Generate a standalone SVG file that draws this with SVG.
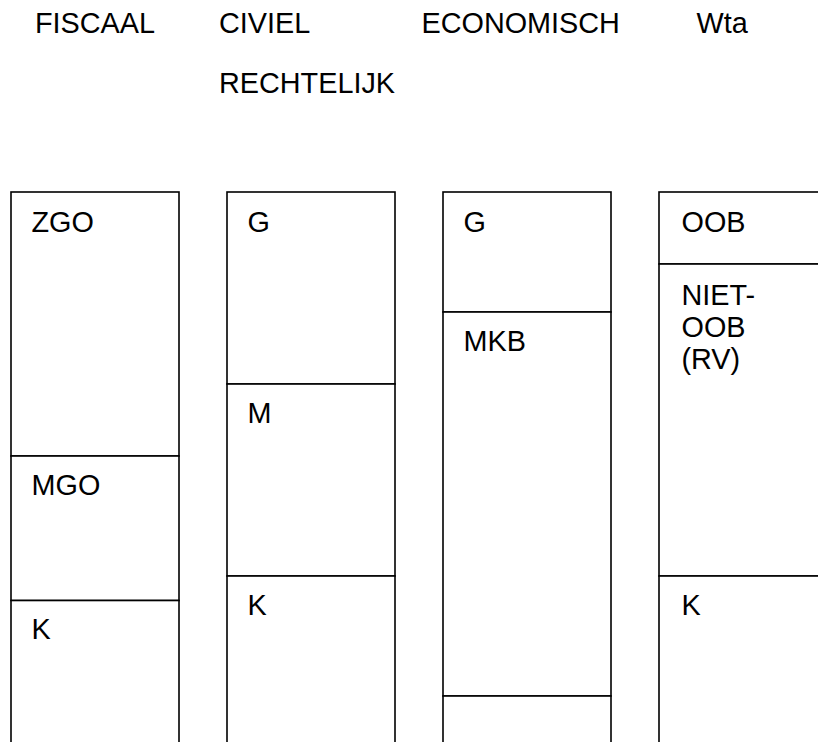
<svg xmlns="http://www.w3.org/2000/svg" width="818" height="742" viewBox="0 0 818 742">
<style>
  text { font-family: "Liberation Sans", Arial, sans-serif; font-size: 28.8px; fill: #000; }
  .cell { fill: #fff; stroke: #000; stroke-width: 1.6; }
</style>
<rect width="818" height="742" fill="#fff"/>
<g id="headers">
  <text x="35" y="33">FISCAAL</text>
  <text x="219" y="33">CIVIEL</text>
  <text x="219" y="93">RECHTELIJK</text>
  <text x="421.5" y="33">ECONOMISCH</text>
  <text x="696.5" y="33">Wta</text>
</g>
<g id="col-fiscaal">
  <g id="zgo"><rect class="cell" x="11" y="192" width="168" height="264"/><text x="31.5" y="231.5">ZGO</text></g>
  <g id="mgo"><rect class="cell" x="11" y="456" width="168" height="144.5"/><text x="31.5" y="494.5">MGO</text></g>
  <g id="k-fiscaal"><rect class="cell" x="11" y="600.5" width="168" height="170"/><text x="31.5" y="639">K</text></g>
</g>
<g id="col-civiel">
  <g id="g-civiel"><rect class="cell" x="227" y="192" width="168" height="192"/><text x="247.5" y="231.5">G</text></g>
  <g id="m-civiel"><rect class="cell" x="227" y="384" width="168" height="192"/><text x="247.5" y="422.5">M</text></g>
  <g id="k-civiel"><rect class="cell" x="227" y="576" width="168" height="190"/><text x="247.5" y="614.5">K</text></g>
</g>
<g id="col-economisch">
  <g id="g-eco"><rect class="cell" x="443" y="192" width="168" height="120"/><text x="463.5" y="231.5">G</text></g>
  <g id="mkb"><rect class="cell" x="443" y="312" width="168" height="384"/><text x="463.5" y="350.5">MKB</text></g>
  <g id="bottom-eco"><rect class="cell" x="443" y="696" width="168" height="70"/></g>
</g>
<g id="col-wta">
  <g id="oob"><rect class="cell" x="659" y="192" width="180" height="72"/><text x="681.5" y="231.5">OOB</text></g>
  <g id="niet-oob"><rect class="cell" x="659" y="264" width="180" height="312"/><text x="681.5" y="305">NIET-</text><text x="681.5" y="337">OOB</text><text x="681.5" y="369">(RV)</text></g>
  <g id="k-wta"><rect class="cell" x="659" y="576" width="180" height="190"/><text x="681.5" y="614.5">K</text></g>
</g>
</svg>
